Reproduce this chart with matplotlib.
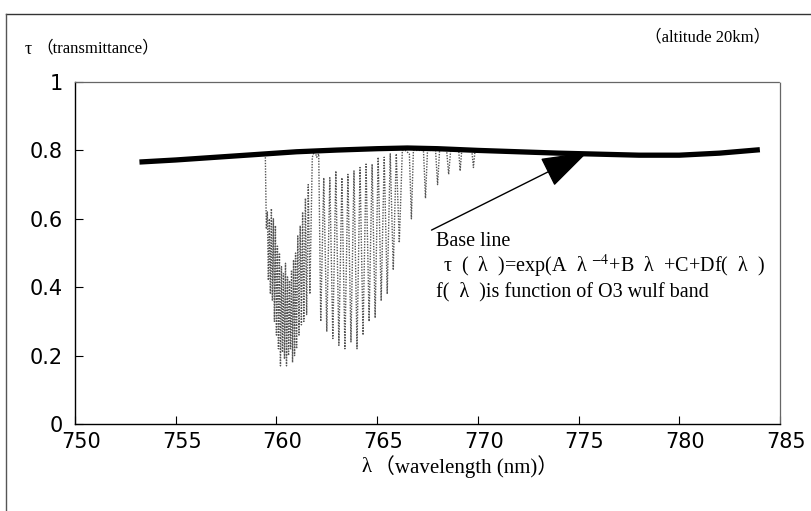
import matplotlib
matplotlib.use("Agg")
import matplotlib.pyplot as plt
from matplotlib.lines import Line2D
from matplotlib.transforms import ScaledTranslation

plt.rcParams['mathtext.fontset'] = 'stix'

# Baseline (fitted) curve
base_wl = [753.2, 755, 757, 759, 761, 763, 765, 766.5, 768, 770, 772, 774, 776, 778, 780, 782, 784]
base_tau = [0.766, 0.772, 0.780, 0.788, 0.796, 0.801, 0.805, 0.807, 0.805, 0.800, 0.796, 0.792, 0.789, 0.786, 0.786, 0.792, 0.802]

# Measured spectrum (O2 A-band), peaks and troughs
spec_wl = [759.45, 759.50, 759.55, 759.60, 759.65, 759.70, 759.75, 759.80, 759.85, 759.90,
           759.95, 760.00, 760.05, 760.10, 760.15, 760.20, 760.25, 760.30, 760.35, 760.40,
           760.45, 760.50, 760.55, 760.60, 760.65, 760.70, 760.75, 760.80, 760.85, 760.90,
           760.95, 761.00, 761.06, 761.12, 761.18, 761.24, 761.30, 761.36, 761.44, 761.50,
           761.58, 761.66, 761.78, 761.90, 762.00, 762.10, 762.20, 762.35, 762.50, 762.65,
           762.80, 762.95, 763.10, 763.25, 763.40, 763.55, 763.70, 763.85, 764.00, 764.15,
           764.30, 764.45, 764.60, 764.75, 764.90, 765.05, 765.20, 765.35, 765.50, 765.65,
           765.80, 765.95, 766.10, 766.25, 766.40, 766.60, 766.70, 766.80, 767.30, 767.40,
           767.50, 767.90, 768.00, 768.10, 768.45, 768.55, 768.65, 769.05, 769.12, 769.20,
           769.70, 769.78, 769.86, 770.10]
spec_tau = [0.78, 0.57, 0.62, 0.42, 0.60, 0.38, 0.63, 0.36, 0.60, 0.30,
            0.58, 0.26, 0.52, 0.22, 0.50, 0.17, 0.46, 0.21, 0.44, 0.19,
            0.47, 0.17, 0.43, 0.20, 0.42, 0.22, 0.45, 0.18, 0.48, 0.20,
            0.50, 0.22, 0.55, 0.26, 0.58, 0.29, 0.62, 0.30, 0.66, 0.32,
            0.70, 0.38, 0.78, 0.80, 0.78, 0.79, 0.30, 0.72, 0.27, 0.72,
            0.25, 0.74, 0.23, 0.72, 0.22, 0.73, 0.24, 0.74, 0.22, 0.75,
            0.26, 0.76, 0.30, 0.76, 0.31, 0.78, 0.36, 0.78, 0.38, 0.79,
            0.45, 0.79, 0.53, 0.80, 0.80, 0.79, 0.60, 0.80, 0.80, 0.66,
            0.80, 0.80, 0.70, 0.80, 0.80, 0.73, 0.80, 0.80, 0.74, 0.80,
            0.80, 0.75, 0.80, 0.80]

x_ticks = [750, 755, 760, 765, 770, 775, 780, 785]
y_ticks = [0, 0.2, 0.4, 0.6, 0.8, 1]
y_tick_labels = ['0', '0.2', '0.4', '0.6', '0.8', '1']

W, H = 811, 511
fig = plt.figure(figsize=(W / 100, H / 100), dpi=100)
ax = fig.add_axes([75 / W, 1 - 424 / H, (780 - 75) / W, (424 - 82) / H])

ax.plot(spec_wl, spec_tau, color='#555555', lw=1.0, linestyle=(0, (1, 1)))
ax.plot(base_wl, base_tau, color='black', lw=3.8, solid_capstyle='butt')

ax.set_xlim(750, 785)
ax.set_ylim(0, 1)
ax.set_xticks(x_ticks)
ax.set_xticklabels([str(t) for t in x_ticks])
ax.set_yticks(y_ticks)
ax.set_yticklabels(y_tick_labels)
ax.tick_params(direction='in', length=6, width=0.8, labelsize=15, pad=9)
ax.tick_params(axis='x', pad=6)
for lab in ax.get_xticklabels():
    lab.set_transform(lab.get_transform() + ScaledTranslation(6 / 100, 0, fig.dpi_scale_trans))

for s in ['top', 'right']:
    ax.spines[s].set_linestyle((0, (1, 1)))
    ax.spines[s].set_color('#666666')
    ax.spines[s].set_linewidth(0.9)
for s in ['left', 'bottom']:
    ax.spines[s].set_color('black')
    ax.spines[s].set_linewidth(1.0)

serif = ['Liberation Serif', 'Noto Sans CJK JP']

# arrow
ax.annotate('', xy=(775.45, 0.795), xytext=(767.7, 0.567),
            arrowprops=dict(arrowstyle='-|>,head_length=3.0,head_width=1.0',
                            color='black', lw=1.0, shrinkA=0, shrinkB=0))

ax.text(767.9, 0.535, 'Base line', family=serif, fontsize=14.5, ha='left', va='center')
ax.text(768.0, 0.462, r' τ  (  λ  )=exp(A  λ $^{-4}$+B  λ  +C+Df(  λ  )', family=serif,
        fontsize=14.5, ha='left', va='center')
ax.text(767.9, 0.388, 'f(  λ  )is function of O3 wulf band', family=serif, fontsize=14.5,
        ha='left', va='center')

def ftext(x, y, s, **kw):
    fig.text(x / W, 1 - y / H, s, **kw)

ftext(25, 50, 'τ', family=serif, fontsize=13, ha='left', va='center')
ftext(36, 48, '（transmittance）', family=serif, fontsize=12, ha='left', va='center')
ftext(645, 37, '（altitude 20km）', family=serif, fontsize=12, ha='left', va='center')
ftext(362, 467, 'λ', family=serif, fontsize=15, ha='left', va='center')
ftext(374, 467, '（wavelength (nm)）', family=serif, fontsize=15, ha='left', va='center')

# outer frame (top and left edges)
fig.add_artist(Line2D([6 / W, 1], [1 - 14 / H, 1 - 14 / H], transform=fig.transFigure,
                      color='#333333', lw=1.0))
fig.add_artist(Line2D([6 / W, 6 / W], [0, 1 - 14 / H], transform=fig.transFigure,
                      color='#555555', lw=1.0))

fig.savefig('out.png', dpi=100)
